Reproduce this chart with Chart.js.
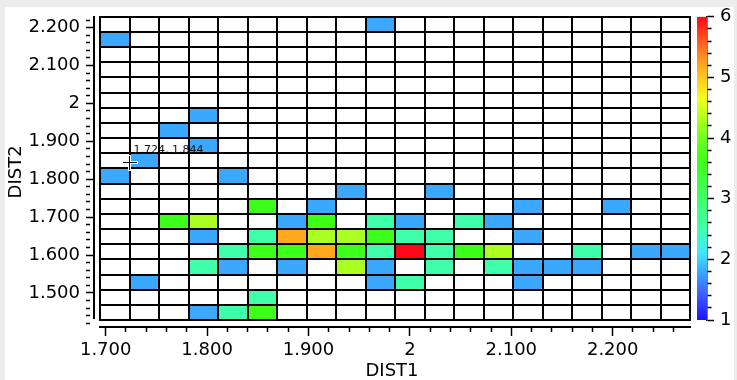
<!DOCTYPE html>
<html>
<head>
<meta charset="utf-8">
<script src="https://cdn.jsdelivr.net/npm/chart.js@4/dist/chart.umd.min.js"></script>
<style>
html,body{margin:0;padding:0;background:#ececec;width:737px;height:380px;overflow:hidden;}
#panel{position:absolute;left:5px;top:7px;width:729px;height:373px;background:#fff;}
#main{position:absolute;left:0;top:0;}
#cbar{position:absolute;left:690px;top:0;}
</style>
</head>
<body>
<div id="panel"></div>
<canvas id="main" width="737" height="380"></canvas>
<canvas id="cbar" width="47" height="380"></canvas>
<script>
// ---- histogram bins (data space) ----
const DIST1_EDGE0 = 1.69438, DIST1_BIN = 0.029093, N_COLS = 20;
const DIST2_EDGE0 = 1.42826, DIST2_BIN = 0.040012, N_ROWS = 20;

// ---- axis ranges ----
const X_MIN = 1.68846, X_MAX = 2.27624;
const Y_MIN = 1.41013, Y_MAX = 2.22850;
const CB_MIN = 1, CB_MAX = 6;

// ---- tick labels ----
const xTickValues = [1.7, 1.8, 1.9, 2.0, 2.1, 2.2];
const xTickLabels = ['1.700', '1.800', '1.900', '2', '2.100', '2.200'];
const yTickValues = [1.5, 1.6, 1.7, 1.8, 1.9, 2.0, 2.1, 2.2];
const yTickLabels = ['1.500', '1.600', '1.700', '1.800', '1.900', '2', '2.100', '2.200'];
const cbTickValues = [1, 2, 3, 4, 5, 6];
const cbTickLabels = ['1', '2', '3', '4', '5', '6'];

// ---- cell values: DIST2 rows from top (2.228) to bottom (1.428), 20 DIST1 bins each; 0 = empty ----
const rowsTopDown = [
  [0,0,0,0,0,0,0,0,0,1.8,0,0,0,0,0,0,0,0,0,0],
  [1.8,0,0,0,0,0,0,0,0,0,0,0,0,0,0,0,0,0,0,0],
  [0,0,0,0,0,0,0,0,0,0,0,0,0,0,0,0,0,0,0,0],
  [0,0,0,0,0,0,0,0,0,0,0,0,0,0,0,0,0,0,0,0],
  [0,0,0,0,0,0,0,0,0,0,0,0,0,0,0,0,0,0,0,0],
  [0,0,0,0,0,0,0,0,0,0,0,0,0,0,0,0,0,0,0,0],
  [0,0,0,1.8,0,0,0,0,0,0,0,0,0,0,0,0,0,0,0,0],
  [0,0,1.8,0,0,0,0,0,0,0,0,0,0,0,0,0,0,0,0,0],
  [0,0,0,1.8,0,0,0,0,0,0,0,0,0,0,0,0,0,0,0,0],
  [0,1.8,0,0,0,0,0,0,0,0,0,0,0,0,0,0,0,0,0,0],
  [1.8,0,0,0,1.8,0,0,0,0,0,0,0,0,0,0,0,0,0,0,0],
  [0,0,0,0,0,0,0,0,1.8,0,0,1.8,0,0,0,0,0,0,0,0],
  [0,0,0,0,0,3.6,0,1.8,0,0,0,0,0,0,1.8,0,0,1.8,0,0],
  [0,0,3.6,4.3,0,0,1.8,3.6,0,2.5,1.8,0,2.5,1.8,0,0,0,0,0,0],
  [0,0,0,1.8,0,2.5,5.2,4.3,4.3,3.6,2.5,2.5,0,0,1.8,0,0,0,0,0],
  [0,0,0,0,2.5,3.6,3.6,5.2,3.6,2.5,6,2.5,3.6,4.3,0,0,2.5,0,1.8,1.8],
  [0,0,0,2.5,1.8,0,1.8,0,4.3,1.8,0,2.5,0,2.5,1.8,1.8,1.8,0,0,0],
  [0,1.8,0,0,0,0,0,0,0,1.8,2.5,0,0,0,1.8,0,0,0,0,0],
  [0,0,0,0,0,2.5,0,0,0,0,0,0,0,0,0,0,0,0,0,0],
  [0,0,0,1.8,2.5,3.6,0,0,0,0,0,0,0,0,0,0,0,0,0,0]
];

// ---- cursor readout ----
const cursorPoint = [1.724, 1.844];
const cursorText = '1.724, 1.844';

// ---- colour map (value -> colour) ----
const cmapValues = [1.0, 1.4, 1.8, 2.1, 2.5, 3.0, 3.6, 4.0, 4.3, 4.65, 5.2, 5.6, 6.0];
const cmapColors = ['#2010ff','#3a5cff','#3aa8ff','#40e6ff','#40ffaa','#40ff68','#3cff1a','#70ff1e','#aaff20','#f4ff20','#ffa820','#ff5a20','#ff0818'];

function hexRgb(h){ const n = parseInt(h.slice(1),16); return [(n>>16)&255,(n>>8)&255,n&255]; }
function colorFor(v){
  if (v <= cmapValues[0]) return cmapColors[0];
  for (let i=1;i<cmapValues.length;i++){
    if (v <= cmapValues[i]) {
      const t = (v - cmapValues[i-1])/(cmapValues[i]-cmapValues[i-1]);
      const a = hexRgb(cmapColors[i-1]), b = hexRgb(cmapColors[i]);
      return 'rgb(' + a.map((q,k)=>Math.round(q+(b[k]-q)*t)).join(',') + ')';
    }
  }
  return cmapColors[cmapColors.length-1];
}

function stepTicks(from, to, step){ const out=[]; const n=Math.round((to-from)/step); for(let i=0;i<=n;i++) out.push(+(from+i*step).toFixed(4)); return out; }
const xAllTicks = stepTicks(1.70, 2.26, 0.02);
const yAllTicks = stepTicks(1.42, 2.22, 0.02);
const cbAllTicks = stepTicks(1, 6, 0.2);
function findIdx(v, arr){ return arr.findIndex(a => Math.abs(a - v) < 1e-6); }
function labelFor(v, vals, labs){ const i = findIdx(v, vals); return i >= 0 ? labs[i] : ''; }

// ---- build cells ----
const cells = [];
rowsTopDown.forEach((row, t) => {
  const r = N_ROWS - 1 - t;
  row.forEach((v, c) => {
    if (v > 0) cells.push({ x: DIST1_EDGE0 + (c + 0.5) * DIST1_BIN, y: [DIST2_EDGE0 + r * DIST2_BIN, DIST2_EDGE0 + (r + 1) * DIST2_BIN], v });
  });
});

Chart.defaults.font.family = '"DejaVu Sans", sans-serif';
Chart.defaults.color = '#000';

const binGrid = {
  id: 'binGrid',
  afterDatasetsDraw(chart) {
    const xs = chart.scales.x, ys = chart.scales.y, ctx = chart.ctx, ca = chart.chartArea;
    const L = Math.round(xs.getPixelForValue(DIST1_EDGE0));
    const R = Math.round(xs.getPixelForValue(DIST1_EDGE0 + N_COLS * DIST1_BIN));
    const B = Math.round(ys.getPixelForValue(DIST2_EDGE0));
    const T = Math.round(ys.getPixelForValue(DIST2_EDGE0 + N_ROWS * DIST2_BIN));
    ctx.save();
    ctx.strokeStyle = '#000';
    ctx.lineWidth = 2;
    ctx.beginPath();
    for (let i = 0; i <= N_COLS; i++) {
      const X = Math.round(xs.getPixelForValue(DIST1_EDGE0 + i * DIST1_BIN));
      ctx.moveTo(X, T - 1); ctx.lineTo(X, B + 1);
    }
    for (let j = 0; j <= N_ROWS; j++) {
      const Y = Math.round(ys.getPixelForValue(DIST2_EDGE0 + j * DIST2_BIN));
      ctx.moveTo(L - 1, Y); ctx.lineTo(R + 1, Y);
    }
    // axis lines
    const ax = Math.round(ca.left), ay = Math.round(ca.bottom);
    ctx.moveTo(ax, T - 1); ctx.lineTo(ax, B - 1);
    ctx.moveTo(L - 1, ay); ctx.lineTo(R + 1, ay);
    ctx.stroke();
    ctx.restore();
  },
  afterDraw(chart) {
    const xs = chart.scales.x, ys = chart.scales.y, ctx = chart.ctx;
    const cx = Math.floor(xs.getPixelForValue(cursorPoint[0])) - 0.5;
    const cy = Math.floor(ys.getPixelForValue(cursorPoint[1])) + 0.5;
    ctx.save();
    ctx.lineCap = 'square';
    ctx.strokeStyle = '#fff'; ctx.lineWidth = 3;
    ctx.beginPath(); ctx.moveTo(cx - 6, cy); ctx.lineTo(cx + 7, cy); ctx.moveTo(cx, cy - 6); ctx.lineTo(cx, cy + 7); ctx.stroke();
    ctx.strokeStyle = '#000'; ctx.lineWidth = 1;
    ctx.beginPath(); ctx.moveTo(cx - 6, cy); ctx.lineTo(cx + 7, cy); ctx.moveTo(cx, cy - 6); ctx.lineTo(cx, cy + 7); ctx.stroke();
    ctx.fillStyle = '#111';
    ctx.font = '11px "DejaVu Sans", sans-serif';
    ctx.textBaseline = 'alphabetic';
    ctx.fillText(cursorText, cx + 4, cy - 10);
    ctx.restore();
  }
};

const minorDash = (vals, len) => (ctx) => (ctx.tick && findIdx(ctx.tick.value, vals) >= 0) ? [] : [len, 200];

new Chart(document.getElementById('main'), {
  type: 'bar',
  data: {
    datasets: [{
      data: cells,
      xAxisID: 'xc',
      yAxisID: 'y',
      backgroundColor: (ctx) => ctx.raw ? colorFor(ctx.raw.v) : '#fff',
      borderWidth: 0,
      categoryPercentage: 1,
      barPercentage: 1
    }]
  },
  options: {
    responsive: false,
    animation: false,
    devicePixelRatio: 1,
    layout: { padding: { left: 0, right: 47, top: 11, bottom: 0 } },
    plugins: { legend: { display: false }, tooltip: { enabled: false } },
    scales: {
      xc: {
        type: 'linear', axis: 'x', display: false, min: X_MIN, max: X_MAX, offset: false,
        grid: { offset: false },
        afterBuildTicks: (s) => { s.ticks = [{ value: X_MIN }, { value: X_MAX }]; }
      },
      x: {
        type: 'linear', position: 'bottom', min: X_MIN, max: X_MAX, offset: false,
        afterBuildTicks: (s) => { s.ticks = xAllTicks.map(v => ({ value: v })); },
        afterFit: (s) => { s.height = 53; },
        grid: { drawOnChartArea: false, offset: false, drawTicks: true, tickLength: 9, tickColor: '#000', tickWidth: 1.5, tickBorderDash: minorDash(xTickValues, 5) },
        border: { display: false },
        ticks: { autoSkip: false, maxRotation: 0, padding: 4, color: '#000', font: { size: 18 }, callback: (v) => labelFor(v, xTickValues, xTickLabels) },
        title: { display: true, text: 'DIST1', color: '#000', font: { size: 18, lineHeight: 1 }, padding: { top: 0, bottom: 0 } }
      },
      y: {
        type: 'linear', position: 'left', min: Y_MIN, max: Y_MAX, beginAtZero: false,
        afterBuildTicks: (s) => { s.ticks = yAllTicks.map(v => ({ value: v })); },
        afterFit: (s) => { s.width = 94; },
        grid: { drawOnChartArea: false, drawTicks: true, tickLength: 8, tickColor: '#000', tickWidth: 1.5, tickBorderDash: minorDash(yTickValues, 4) },
        border: { display: false },
        ticks: { autoSkip: false, padding: 6, color: '#000', font: { size: 18 }, callback: (v) => labelFor(v, yTickValues, yTickLabels) },
        title: { display: true, text: 'DIST2', color: '#000', font: { size: 18, lineHeight: 1 }, padding: { top: 7, bottom: 0 } }
      }
    }
  },
  plugins: [binGrid]
});

function cbGradient(chart) {
  const ys = chart.scales.y;
  if (!ys || !chart.chartArea) return '#888';
  const p1 = ys.getPixelForValue(CB_MIN), p2 = ys.getPixelForValue(CB_MAX);
  const g = chart.ctx.createLinearGradient(0, p1, 0, p2);
  cmapValues.forEach((v, i) => g.addColorStop((v - CB_MIN) / (CB_MAX - CB_MIN), cmapColors[i]));
  return g;
}

new Chart(document.getElementById('cbar'), {
  type: 'bar',
  data: {
    labels: ['count'],
    datasets: [{ data: [[CB_MIN, CB_MAX]], backgroundColor: (ctx) => cbGradient(ctx.chart), borderWidth: 0, categoryPercentage: 1, barPercentage: 1 }]
  },
  options: {
    responsive: false,
    animation: false,
    devicePixelRatio: 1,
    layout: { padding: { left: 7, right: 0, top: 15, bottom: 60 } },
    plugins: { legend: { display: false }, tooltip: { enabled: false } },
    scales: {
      x: { display: false },
      y: {
        position: 'right', min: CB_MIN, max: CB_MAX, beginAtZero: false,
        afterBuildTicks: (s) => { s.ticks = cbAllTicks.map(v => ({ value: v })); },
        afterFit: (s) => { s.width = 30; },
        grid: { drawOnChartArea: false, drawTicks: true, tickLength: 7, tickColor: '#000', tickWidth: 1.5, tickBorderDash: minorDash(cbTickValues, 4) },
        border: { display: true, color: '#000', width: 1.5 },
        ticks: { autoSkip: false, padding: 6, color: '#000', font: { size: 18 }, callback: (v) => labelFor(v, cbTickValues, cbTickLabels) }
      }
    }
  }
});
</script>
</body>
</html>
